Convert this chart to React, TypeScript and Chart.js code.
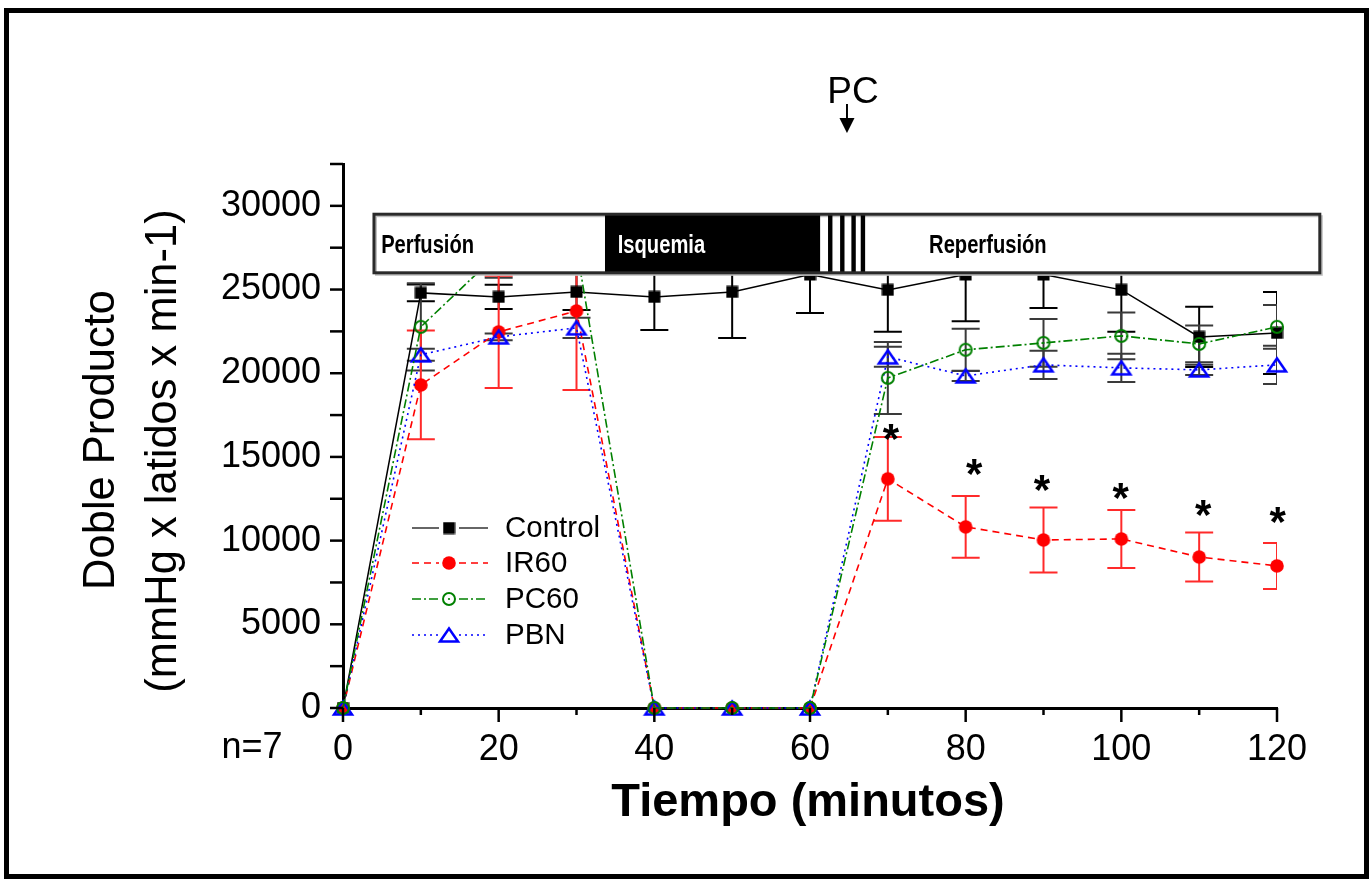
import React, { useEffect, useRef } from "react";
import { Chart, registerables } from "chart.js";

Chart.register(...registerables);

// ---------------- data ----------------
const times = [0, 10, 20, 30, 40, 50, 60, 70, 80, 90, 100, 110, 120];

const controlMean = [0, 24800, 24560, 24860, 24560, 24860, 25900, 24980, 25900, 25900, 24980, 22170, 22410];
const controlSD = [0, 500, 720, 1080, 1970, 2750, 2300, 2500, 2800, 2000, 2500, 1800, 2450];

const ir60Mean = [0, 19300, 22470, 23720, 0, 0, 0, 13690, 10820, 10040, 10100, 9020, 8490];
const ir60SD = [0, 3250, 3350, 4720, 0, 0, 0, 2500, 1850, 1940, 1730, 1460, 1375];

const pc60Mean = [0, 22770, 27200, 27500, 0, 0, 0, 19720, 21400, 21810, 22230, 21750, 22770];
const pc60SD = [0, 2600, 1500, 1500, 0, 0, 0, 2150, 1250, 1430, 1400, 1100, 1300];

const pbnMean = [0, 21100, 22170, 22710, 0, 0, 0, 20980, 19840, 20500, 20320, 20200, 20500];
const pbnSD = [0, 360, 200, 600, 0, 0, 0, 600, 300, 840, 840, 300, 1140];

const seriesLabels = ["Control", "IR60", "PC60", "PBN"];

const xTickLabels = [0, 20, 40, 60, 80, 100, 120];
const yTickLabels = [0, 5000, 10000, 15000, 20000, 25000, 30000];

// significance marks (*) over IR60
const asteriskTimes = [70.4, 81.1, 89.8, 99.9, 110.5, 120.1];
const asteriskLevels = [16600, 14520, 13570, 13090, 12070, 11650];

// protocol banner (x in minutes)
const phaseNames = ["Perfusión", "Isquemia", "Reperfusión"];
const phaseTextStart = [4.9, 35.3, 75.3];

const FONT = '"Liberation Sans", Arial, Helvetica, sans-serif';

function makeCanvas(w: number, h: number, draw: (c: CanvasRenderingContext2D) => void) {
  const c = document.createElement("canvas");
  c.width = w;
  c.height = h;
  const ctx = c.getContext("2d")!;
  draw(ctx);
  return c;
}

export default function App() {
  const ref = useRef<HTMLCanvasElement>(null);

  useEffect(() => {
    const canvas = ref.current!;

    const mSquare = makeCanvas(13, 13, (c) => {
      c.fillStyle = "#000";
      c.fillRect(0.5, 0.5, 12, 12);
    });
    const mDot = makeCanvas(16, 16, (c) => {
      c.fillStyle = "#ff0000";
      c.beginPath();
      c.arc(8, 8, 6.8, 0, Math.PI * 2);
      c.fill();
    });
    const mRing = makeCanvas(18, 18, (c) => {
      c.strokeStyle = "#008000";
      c.lineWidth = 2;
      c.beginPath();
      c.arc(9, 9, 6, 0, Math.PI * 2);
      c.stroke();
      c.fillStyle = "#008000";
      c.beginPath();
      c.arc(9, 9, 1.1, 0, Math.PI * 2);
      c.fill();
    });
    const mTri = makeCanvas(24, 20, (c) => {
      c.strokeStyle = "#0000ff";
      c.lineWidth = 2.5;
      c.beginPath();
      c.moveTo(12, 3.5);
      c.lineTo(21, 16.5);
      c.lineTo(3, 16.5);
      c.closePath();
      c.stroke();
    });

    const markers = [mSquare, mDot, mRing, mTri];
    const lineColors = ["#000000", "#ff0000", "#008000", "#0000ff"];
    const legendLineColors = ["#666666", "#ff0000", "#008000", "#0000ff"];
    const dashes = [[], [7, 5], [9, 3, 2, 3], [2, 4]];
    const means = [controlMean, ir60Mean, pc60Mean, pbnMean];
    const orders = [4, 3, 1, 2];

    const datasets = seriesLabels.map((label, k) => ({
      label,
      data: times.map((t, i) => ({ x: t, y: means[k][i] })),
      borderColor: lineColors[k],
      borderWidth: k === 0 ? 1.5 : 1.6,
      borderDash: dashes[k],
      pointStyle: markers[k] as any,
      pointRadius: 7,
      pointHoverRadius: 7,
      tension: 0,
      fill: false,
      clip: false as any,
      order: orders[k],
    }));

    const errorSets = [
      { mean: controlMean, sd: controlSD, color: "#000000" },
      { mean: pc60Mean, sd: pc60SD, color: "#3a3a3a" },
      { mean: pbnMean, sd: pbnSD, color: "#3a3a3a" },
      { mean: ir60Mean, sd: ir60SD, color: "#ff2a2a" },
    ];

    const overlay = {
      id: "overlay",
      beforeDatasetsDraw(chart: any) {
        const { ctx, chartArea } = chart;
        const xs = chart.scales.x;
        const ys = chart.scales.y;
        ctx.save();
        ctx.beginPath();
        ctx.rect(chartArea.left - 20, 0, chartArea.right - chartArea.left + 20, chart.height);
        ctx.clip();
        errorSets.forEach((s) => {
          ctx.strokeStyle = s.color;
          ctx.lineWidth = 2;
          times.forEach((t, i) => {
            if (!s.sd[i]) return;
            const x = xs.getPixelForValue(t);
            const y1 = ys.getPixelForValue(s.mean[i] + s.sd[i]);
            const y2 = ys.getPixelForValue(s.mean[i] - s.sd[i]);
            ctx.beginPath();
            ctx.moveTo(x, y1);
            ctx.lineTo(x, y2);
            ctx.moveTo(x - 14, y1);
            ctx.lineTo(x + 14, y1);
            ctx.moveTo(x - 14, y2);
            ctx.lineTo(x + 14, y2);
            ctx.stroke();
          });
        });
        ctx.restore();
      },
      afterDraw(chart: any) {
        const { ctx, chartArea } = chart;
        const xs = chart.scales.x;
        const ys = chart.scales.y;
        ctx.save();

        // ticks
        ctx.strokeStyle = "#000";
        ctx.lineWidth = 2.5;
        for (let t = 0; t <= 120; t += 10) {
          const x = xs.getPixelForValue(t);
          const len = xTickLabels.includes(t) ? 14 : 7;
          ctx.beginPath();
          ctx.moveTo(x, chartArea.bottom);
          ctx.lineTo(x, chartArea.bottom + len);
          ctx.stroke();
        }
        for (let v = 0; v <= 32500; v += 2500) {
          const y = ys.getPixelForValue(v);
          ctx.beginPath();
          ctx.moveTo(chartArea.left - 13, y);
          ctx.lineTo(chartArea.left, y);
          ctx.stroke();
        }

        // protocol banner
        const bx1 = xs.getPixelForValue(3.98);
        const bx2 = xs.getPixelForValue(125.5);
        const by1 = ys.getPixelForValue(29500);
        const by2 = ys.getPixelForValue(26000);
        ctx.fillStyle = "#ffffff";
        ctx.fillRect(bx1, by1, bx2 - bx1, by2 - by1 + 3);
        ctx.fillStyle = "#000";
        const k1 = xs.getPixelForValue(33.66);
        const k2 = xs.getPixelForValue(61.3);
        ctx.fillRect(k1, by1, k2 - k1, by2 - by1);
        [62.6, 64.15, 65.6, 66.8].forEach((t) => {
          const sx = xs.getPixelForValue(t);
          ctx.fillRect(sx - 2.2, by1, 4.4, by2 - by1);
        });
        ctx.strokeStyle = "rgba(0,0,0,0.25)";
        ctx.lineWidth = 2;
        ctx.strokeRect(bx1 + 2, by1 + 2, bx2 - bx1, by2 - by1);
        ctx.strokeStyle = "#2a2a2a";
        ctx.lineWidth = 3;
        ctx.strokeRect(bx1, by1, bx2 - bx1, by2 - by1);

        const textY = (by1 + by2) / 2 + 9.5;
        phaseNames.forEach((name, i) => {
          ctx.save();
          const tx = xs.getPixelForValue(phaseTextStart[i]);
          ctx.translate(tx, textY);
          ctx.scale(0.775, 1);
          ctx.font = `bold 26px ${FONT}`;
          ctx.fillStyle = i === 1 ? "#ffffff" : "#000000";
          ctx.textAlign = "left";
          ctx.textBaseline = "alphabetic";
          ctx.fillText(name, 0, 0);
          ctx.restore();
        });

        // PC arrow
        const px = xs.getPixelForValue(64.75);
        ctx.fillStyle = "#000";
        ctx.font = `37px ${FONT}`;
        ctx.textAlign = "center";
        ctx.textBaseline = "alphabetic";
        ctx.fillText("PC", px + 6, 103);
        ctx.strokeStyle = "#000";
        ctx.lineWidth = 2;
        ctx.beginPath();
        ctx.moveTo(px, 104);
        ctx.lineTo(px, 120);
        ctx.stroke();
        ctx.beginPath();
        ctx.moveTo(px - 7.5, 118);
        ctx.lineTo(px + 7.5, 118);
        ctx.lineTo(px, 133);
        ctx.closePath();
        ctx.fill();

        // asterisks
        ctx.font = `bold 42px ${FONT}`;
        ctx.textAlign = "center";
        ctx.textBaseline = "alphabetic";
        asteriskTimes.forEach((t, i) => {
          const x = xs.getPixelForValue(t);
          const y = ys.getPixelForValue(asteriskLevels[i]);
          ctx.fillText("*", x, y + 23);
        });

        // legend
        const legY = [528, 563, 599, 635];
        seriesLabels.forEach((label, k) => {
          const y = legY[k];
          ctx.save();
          ctx.strokeStyle = legendLineColors[k];
          ctx.lineWidth = k === 0 ? 2 : 1.6;
          ctx.setLineDash(dashes[k]);
          ctx.beginPath();
          ctx.moveTo(412, y);
          ctx.lineTo(439, y);
          ctx.moveTo(459, y);
          ctx.lineTo(488, y);
          ctx.stroke();
          ctx.restore();
          const m = markers[k];
          ctx.drawImage(m, 449 - m.width / 2, y - m.height / 2);
          ctx.fillStyle = "#000";
          ctx.font = `29.5px ${FONT}`;
          ctx.textAlign = "left";
          ctx.textBaseline = "middle";
          ctx.fillText(label, 505, y + 1);
        });

        // axis titles
        ctx.fillStyle = "#000";
        ctx.font = `bold 47px ${FONT}`;
        ctx.textAlign = "center";
        ctx.textBaseline = "alphabetic";
        ctx.fillText("Tiempo (minutos)", 808, 816);

        ctx.save();
        ctx.translate(102, 440);
        ctx.rotate(-Math.PI / 2);
        ctx.font = `43.5px ${FONT}`;
        ctx.textAlign = "center";
        ctx.textBaseline = "middle";
        ctx.fillText("Doble Producto", 0, 0);
        ctx.restore();
        ctx.save();
        ctx.translate(164, 451);
        ctx.rotate(-Math.PI / 2);
        ctx.font = `43.5px ${FONT}`;
        ctx.textAlign = "center";
        ctx.textBaseline = "middle";
        ctx.fillText("(mmHg x latidos x min-1)", 0, 0);
        ctx.restore();

        ctx.font = `36px ${FONT}`;
        ctx.textAlign = "center";
        ctx.textBaseline = "middle";
        ctx.fillText("n=7", 252, 748);

        // frame
        ctx.strokeStyle = "#000";
        ctx.lineWidth = 5;
        ctx.strokeRect(6.5, 10.5, 1360, 866);

        ctx.restore();
      },
    };

    const chart = new Chart(canvas, {
      type: "line",
      data: { datasets: datasets as any },
      options: {
        animation: false,
        responsive: false,
        devicePixelRatio: 1,
        layout: { padding: { left: 0, right: 95, top: 164, bottom: 0 } },
        plugins: { legend: { display: false }, tooltip: { enabled: false } },
        events: [],
        scales: {
          x: {
            type: "linear",
            min: 0,
            max: 120,
            grid: { display: false, drawTicks: false },
            border: { display: true, color: "#000", width: 3 },
            ticks: {
              stepSize: 10,
              autoSkip: false,
              maxRotation: 0,
              padding: 20,
              color: "#000",
              font: { family: FONT, size: 36 },
              callback: (v: any) => (xTickLabels.includes(Number(v)) ? String(v) : ""),
            },
            afterFit: (s: any) => {
              s.height = 882 - 708;
            },
          },
          y: {
            type: "linear",
            min: 0,
            max: 32500,
            grid: { display: false, drawTicks: false },
            border: { display: true, color: "#000", width: 3 },
            ticks: {
              stepSize: 2500,
              autoSkip: false,
              padding: 22,
              color: "#000",
              font: { family: FONT, size: 36 },
              callback: (v: any) => (yTickLabels.includes(Number(v)) ? String(v) : ""),
            },
            afterFit: (s: any) => {
              s.width = 343;
            },
          },
        },
      } as any,
      plugins: [overlay],
    });

    return () => chart.destroy();
  }, []);

  return (
    <div style={{ position: "fixed", left: 0, top: 0, width: 1372, height: 882, background: "#fff" }}>
      <canvas ref={ref} width={1372} height={882} style={{ display: "block" }} />
    </div>
  );
}
